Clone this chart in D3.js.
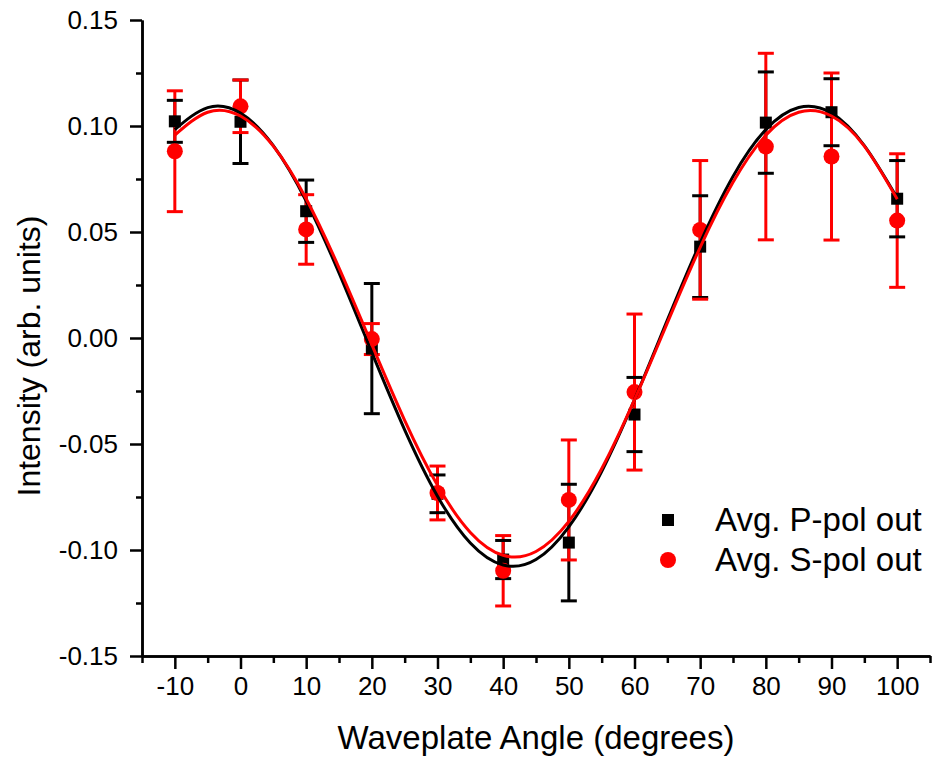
<!DOCTYPE html>
<html>
<head>
<meta charset="utf-8">
<script src="https://cdn.jsdelivr.net/npm/d3@7"></script>
<style>
  body { margin: 0; background: #fff; }
  svg { display: block; font-family: "Liberation Sans", Arial, sans-serif; }
</style>
</head>
<body>
<svg width="934" height="760"></svg>
<script>
// measured points (waveplate angle in degrees)
let angles = [-10, 0, 10, 20, 30, 40, 50, 60, 70, 80, 90, 100];

// Avg. P-pol out (black squares)
let pPol = [0.1022, 0.1020, 0.0598, -0.0050, -0.0735, -0.1045, -0.0965, -0.0361, 0.0431, 0.1016, 0.1065, 0.0657];
let pErr = [0.0099, 0.0197, 0.0147, 0.0307, 0.0089, 0.0090, 0.0275, 0.0175, 0.0240, 0.0239, 0.0158, 0.0180];

// Avg. S-pol out (red circles)
let sPol = [0.0881, 0.1093, 0.0512, -0.0005, -0.0731, -0.1098, -0.0764, -0.0255, 0.0510, 0.0903, 0.0856, 0.0554];
let sErr = [0.0285, 0.0124, 0.0164, 0.0073, 0.0127, 0.0166, 0.0283, 0.0368, 0.0327, 0.0440, 0.0394, 0.0315];

// fitted curves, every 5 degrees
let fitAngles = [-10, -5, 0, 5, 10, 15, 20, 25, 30, 35, 40, 45, 50, 55, 60, 65, 70, 75, 80, 85, 90, 95, 100];
let pFit = [0.0983, 0.1087, 0.1061, 0.0907, 0.0646, 0.0307, -0.0068, -0.0433, -0.0746, -0.0967, -0.1071, -0.1045,
            -0.0891, -0.0630, -0.0291, 0.0084, 0.0449, 0.0762, 0.0983, 0.1087, 0.1061, 0.0907, 0.0660];
let sFit = [0.0957, 0.1065, 0.1047, 0.0905, 0.0657, 0.0331, -0.0031, -0.0388, -0.0695, -0.0917, -0.1025, -0.1007,
            -0.0865, -0.0617, -0.0291, 0.0071, 0.0428, 0.0735, 0.0957, 0.1065, 0.1047, 0.0905, 0.0655];

let xTicks = [-10, 0, 10, 20, 30, 40, 50, 60, 70, 80, 90, 100];
let xMinor = [-15, -5, 5, 15, 25, 35, 45, 55, 65, 75, 85, 95, 105];
let yTicks = [-0.15, -0.10, -0.05, 0.00, 0.05, 0.10, 0.15];
let yMinor = [-0.125, -0.075, -0.025, 0.025, 0.075, 0.125];

let seriesNames = ["Avg. P-pol out", "Avg. S-pol out"];
let colors = ["#000000", "#ff0000"];

var svg = d3.select("svg");

var x = d3.scaleLinear().domain([-15, 105]).range([142, 930]);
var y = d3.scaleLinear().domain([-0.15, 0.15]).range([656, 20]);

var pts = [
  angles.map(function(a, i) { return {a: a, v: pPol[i], e: pErr[i]}; }),
  angles.map(function(a, i) { return {a: a, v: sPol[i], e: sErr[i]}; })
];

// axes
svg.append("g").attr("transform", "translate(0,656)")
  .call(d3.axisBottom(x).tickValues(xTicks).tickSize(13).tickSizeOuter(0).tickPadding(8)
    .tickFormat(function(d) { return String(d); }));
svg.append("g").attr("transform", "translate(0,656)")
  .call(d3.axisBottom(x).tickValues(xMinor).tickSize(7).tickSizeOuter(0).tickFormat(""));

svg.append("g").attr("transform", "translate(142,0)")
  .call(d3.axisLeft(y).tickValues(yTicks).tickSize(12).tickSizeOuter(0).tickPadding(12)
    .tickFormat(function(d) { return d.toFixed(2); }));
svg.append("g").attr("transform", "translate(142,0)")
  .call(d3.axisLeft(y).tickValues(yMinor).tickSize(6).tickSizeOuter(0).tickFormat(""));

svg.selectAll(".domain, .tick line").attr("stroke", "#000").attr("stroke-width", 2.5);
svg.selectAll(".tick text").attr("fill", "#000").style("font-size", "26px")
  .style("font-family", "'Liberation Sans', Arial, sans-serif");

// axis titles
svg.append("text")
  .attr("x", 536).attr("y", 749)
  .attr("text-anchor", "middle")
  .style("font-size", "33px")
  .text("Waveplate Angle (degrees)");

svg.append("text")
  .attr("transform", "translate(40,356) rotate(-90)")
  .attr("text-anchor", "middle")
  .style("font-size", "32px")
  .text("Intensity (arb. units)");

// error bar stems
pts.forEach(function(s, k) {
  svg.append("g").selectAll("line")
    .data(s).enter().append("line")
      .attr("x1", function(d) { return x(d.a); })
      .attr("x2", function(d) { return x(d.a); })
      .attr("y1", function(d) { return y(d.v + d.e); })
      .attr("y2", function(d) { return y(d.v - d.e); })
      .attr("stroke", colors[k]).attr("stroke-width", 3);
});

// error bar caps
pts.forEach(function(s, k) {
  var caps = svg.append("g").attr("stroke", colors[k]).attr("stroke-width", 3);
  [1, -1].forEach(function(sign) {
    caps.selectAll(null)
      .data(s).enter().append("line")
        .attr("x1", function(d) { return x(d.a) - 8; })
        .attr("x2", function(d) { return x(d.a) + 8; })
        .attr("y1", function(d) { return y(d.v + sign * d.e); })
        .attr("y2", function(d) { return y(d.v + sign * d.e); });
  });
});

// markers
svg.append("g").selectAll("rect")
  .data(pts[0]).enter().append("rect")
    .attr("x", function(d) { return x(d.a) - 6; })
    .attr("y", function(d) { return y(d.v) - 6; })
    .attr("width", 12).attr("height", 12)
    .attr("fill", colors[0]);

svg.append("g").selectAll("circle")
  .data(pts[1]).enter().append("circle")
    .attr("cx", function(d) { return x(d.a); })
    .attr("cy", function(d) { return y(d.v); })
    .attr("r", 8)
    .attr("fill", colors[1]);

// fit curves
var line = d3.line()
  .x(function(d) { return x(d[0]); })
  .y(function(d) { return y(d[1]); })
  .curve(d3.curveNatural);

[pFit, sFit].forEach(function(f, k) {
  svg.append("path")
    .datum(fitAngles.map(function(a, i) { return [a, f[i]]; }))
    .attr("d", line)
    .attr("fill", "none")
    .attr("stroke", colors[k])
    .attr("stroke-width", 3);
});

// legend
var legend = svg.append("g");
legend.append("rect")
  .attr("x", 662).attr("y", 514).attr("width", 12).attr("height", 12)
  .attr("fill", colors[0]);
legend.append("circle")
  .attr("cx", 668).attr("cy", 560).attr("r", 8)
  .attr("fill", colors[1]);
legend.selectAll("text")
  .data(seriesNames).enter().append("text")
    .attr("x", 715)
    .attr("y", function(d, i) { return 531 + i * 40; })
    .style("font-size", "33px")
    .text(function(d) { return d; });
</script>
</body>
</html>
